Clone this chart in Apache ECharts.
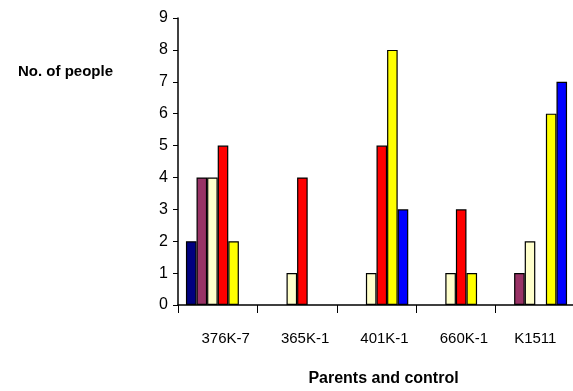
<!DOCTYPE html>
<html>
<head>
<meta charset="utf-8">
<script src="https://cdn.jsdelivr.net/npm/echarts@6/dist/echarts.min.js"></script>
<style>
html,body{margin:0;padding:0;background:#fff;}
#chart{width:573px;height:391px;}
</style>
</head>
<body>
<div id="chart"></div>
<script>
const categories = ['376K-7', '365K-1', '401K-1', '660K-1', 'K1511'];
const yTicks = [0, 1, 2, 3, 4, 5, 6, 7, 8, 9];
const seriesNames = ['Series 1', 'Series 2', 'Series 3', 'Series 4', 'Series 5', 'Series 6'];
const s1 = [2, null, null, null, null];
const s2 = [4, null, null, null, 1];
const s3 = [4, 1, 1, 1, 2];
const s4 = [5, 4, 5, 3, null];
const s5 = [2, null, 8, 1, 6];
const s6 = [null, null, 3, null, 7];
const colors = ['#000080', '#993366', '#FFFFCC', '#FF0000', '#FFFF00', '#0000FF'];

const FONT = "'Liberation Sans', Arial, sans-serif";
const chart = echarts.init(document.getElementById('chart'));
const allData = [s1, s2, s3, s4, s5, s6];
chart.setOption({
  backgroundColor: '#fff',
  animation: false,
  grid: { left: 178, top: 18, width: 397, height: 287, containLabel: false, outerBoundsMode: 'none' },
  xAxis: {
    type: 'category',
    data: categories,
    name: 'Parents and control',
    nameLocation: 'middle',
    nameGap: 66,
    nameTextStyle: { fontFamily: FONT, fontSize: 16, fontWeight: 'bold', color: '#000', padding: [0, 0, 0, 14] },
    axisLine: { lineStyle: { color: '#000', width: 1.5 } },
    axisTick: { show: true, length: 8, lineStyle: { color: '#000' } },
    axisLabel: {
      interval: 0,
      margin: 26,
      color: '#000',
      fontFamily: FONT,
      fontSize: 15,
      formatter: function (v, i) { return i < 4 ? '{a|' + v + '}' : '{b|' + v + '}'; },
      rich: {
        a: { fontFamily: FONT, fontSize: 15, color: '#000', padding: [0, 0, 0, 16] },
        b: { fontFamily: FONT, fontSize: 15, color: '#000' }
      }
    },
    splitLine: { show: false }
  },
  yAxis: {
    type: 'value',
    min: 0,
    max: 9,
    interval: 1,
    name: 'No. of people',
    nameLocation: 'end',
    nameGap: -61,
    nameTextStyle: { fontFamily: FONT, fontSize: 15, fontWeight: 'bold', color: '#000', align: 'right', padding: [0, 65, 0, 0] },
    axisLine: { show: true, lineStyle: { color: '#000', width: 1.5 } },
    axisTick: { show: true, length: 5, lineStyle: { color: '#000' } },
    axisLabel: {
      margin: 10,
      color: '#000',
      fontFamily: FONT,
      fontSize: 16,
      formatter: function (v) { return yTicks.indexOf(v) >= 0 ? String(v) : ''; }
    },
    splitLine: { show: false }
  },
  series: allData.map(function (d, i) {
    return {
      name: seriesNames[i],
      type: 'bar',
      data: d,
      barGap: '0%',
      barCategoryGap: '20%',
      itemStyle: { color: colors[i], borderColor: '#000', borderWidth: 1.2 }
    };
  })
});
</script>
</body>
</html>
